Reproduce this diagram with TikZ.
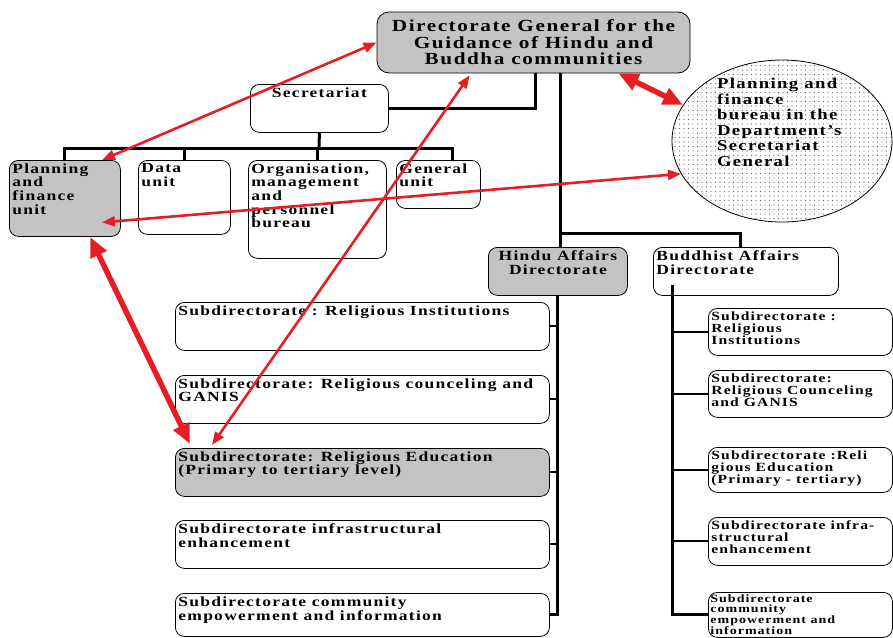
\documentclass[tikz,border=0pt]{standalone}
\usepackage{fontspec}
\setmainfont{Liberation Serif}[FakeStretch=1.25,LetterSpace=9]
\usetikzlibrary{shapes.geometric,arrows.meta,patterns.meta,calc}

\definecolor{boxgray}{RGB}{195,195,195}
\definecolor{arrowred}{RGB}{228,30,36}

% text block of a box: width, height, lines
\newcommand{\boxtext}[3]{\parbox[c][#2][t]{#1}{\begin{tabular}[t]{@{}l@{}}#3\end{tabular}}}
\newcommand{\boxtextc}[3]{\parbox[c][#2][t]{#1}{\centering\begin{tabular}[t]{@{}c@{}}#3\end{tabular}}}

\begin{document}
\begin{tikzpicture}[x=1pt,y=-1pt,
  orgbox/.style={draw, line width=0.8pt, rounded corners=9pt, fill=white, inner sep=3pt,
    anchor=north west, font=\bfseries\fontsize{14}{13.5}\selectfont},
  shaded/.style={fill=boxgray},
  subfont/.style={font=\bfseries\fontsize{12.5}{12.3}\selectfont},
  bar/.style={line width=3pt},
  stub/.style={line width=2pt},
  link/.style={draw=arrowred, line width=2.6pt, <->, >={Triangle[length=13pt,width=10pt]}},
  biglink/.style={draw=arrowred, line width=5.5pt, <->, >={Triangle[length=20pt,width=17pt]}}]

\useasboundingbox (0,0) rectangle (893,637);

% top level
\node[orgbox, shaded, anchor=center, align=center, rounded corners=12pt, minimum width=313pt,
  minimum height=61pt, font=\bfseries\fontsize{17}{16.5}\selectfont] (dg) at (533.5,42.5)
  {Directorate General for the\\Guidance of Hindu and\\Buddha communities};
\node[orgbox] (sec) at (250,84) {\boxtextc{132pt}{42pt}{Secretariat}};

% secretariat units
\node[orgbox, shaded] (plan) at (9,160) {\boxtext{105pt}{70pt}{Planning\\and\\finance\\unit}};
\node[orgbox] (data) at (138,160) {\boxtext{86pt}{68pt}{Data\\unit}};
\node[orgbox] (org) at (248,160) {\boxtext{132pt}{92pt}{Organisation,\\management\\and\\personnel\\bureau}};
\node[orgbox] (gen) at (396,160) {\boxtext{78pt}{42pt}{General\\unit}};

\node[ellipse, draw, line width=0.8pt, pattern={Dots[distance=4.5pt,radius=0.55pt]},
  pattern color=black!60, minimum width=220pt, minimum height=162pt, inner sep=0pt,
  font=\bfseries\fontsize{15}{15.5}\selectfont] (pfb) at (782,141)
  {\parbox[c][110pt][t]{130pt}{\vspace*{-8pt}\begin{tabular}[t]{@{}l@{}}Planning and\\finance\\bureau in the\\Department's\\Secretariat\\General\end{tabular}}};

% directorates
\node[orgbox, shaded] (hindu) at (488,247) {\boxtextc{133pt}{42pt}{Hindu Affairs\\Directorate}};
\node[orgbox] (budd) at (653,247) {\boxtext{179pt}{42pt}{Buddhist Affairs\\Directorate}};

% hindu subdirectorates
\node[orgbox] (hs1) at (175,302) {\boxtext{368pt}{42pt}{Subdirectorate : Religious Institutions}};
\node[orgbox] (hs2) at (175,375) {\boxtext{368pt}{42pt}{Subdirectorate: Religious counceling and\\GANIS}};
\node[orgbox, shaded] (hs3) at (175,448) {\boxtext{368pt}{42pt}{Subdirectorate: Religious Education\\(Primary to tertiary level)}};
\node[orgbox] (hs4) at (175,520) {\boxtext{368pt}{42pt}{Subdirectorate infrastructural\\enhancement}};
\node[orgbox] (hs5) at (175,593) {\boxtext{368pt}{37pt}{Subdirectorate community\\empowerment and information}};

% buddhist subdirectorates
\node[orgbox, subfont] (bs1) at (708,308) {\boxtext{178pt}{41pt}{Subdirectorate :\\Religious\\Institutions}};
\node[orgbox, subfont] (bs2) at (708,370) {\boxtext{178pt}{41pt}{Subdirectorate:\\Religious Counceling\\and GANIS}};
\node[orgbox, subfont] (bs3) at (708,447) {\boxtext{178pt}{39pt}{Subdirectorate :Reli\\gious Education\\(Primary - tertiary)}};
\node[orgbox, subfont] (bs4) at (708,517) {\boxtext{178pt}{42pt}{Subdirectorate infra-\\structural\\enhancement}};
\node[orgbox, inner sep=2pt, font=\bfseries\fontsize{11.2}{10}\selectfont] (bs5) at (708,592)
  {\boxtext{180pt}{41pt}{Subdirectorate\\community\\empowerment and\\information}};

% black lines
\coordinate (secbar) at (319,148);
\coordinate (gentap) at ([xshift=14pt]gen.north);
\coordinate (bstop) at (672,285);
\draw[bar] (sec.east) -| ([xshift=2pt]dg.south);
\draw[bar] ([xshift=3pt]dg.south -| hindu.north) -- ([xshift=3pt]hindu.north);
\draw[bar] ([xshift=3pt]hindu.north |- 0,233) -| ([xshift=-5pt]budd.north);
\draw[bar] (sec.south) -- (secbar);
\draw[bar] (plan.north) |- (gentap |- secbar) -- (gentap);
\draw[bar] (data.north) -- (data.north |- secbar);
\draw[bar] (org.north) -- (org.north |- secbar);

\draw[bar] (hindu.south) |- (hs5.east);
\foreach \n in {hs1,hs2,hs3,hs4}
  \draw[stub] (\n.east) -- (\n.east -| hindu.south);
\draw[bar] (bstop) |- (bs5.west);
\foreach \n in {bs1,bs2,bs3,bs4}
  \draw[stub] (\n.west) -- (\n.west -| bstop);

% red links
\draw[link] (dg.west) -- (plan.46);
\draw[link] ($(hs3.north west)+(37,-3)$) -- ($(dg.south west)+(93,2)$);
\draw[biglink] ($(dg.south east)+(-72,0)$) -- (pfb.160);
\draw[link] (pfb.198) -- ($(plan.center)+(37,24)$);
\draw[biglink] ($(plan.south west)+(81,0)$) -- ($(hs3.north west)+(15,-4)$);

\end{tikzpicture}
\end{document}
